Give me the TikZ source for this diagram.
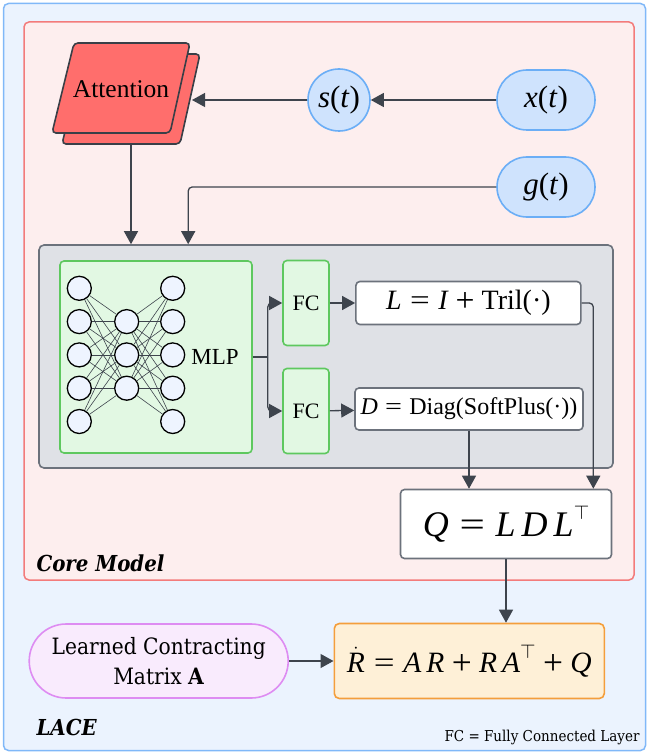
\documentclass[tikz,border=0pt]{standalone}
\usepackage{amsmath}
\usepackage[no-math]{fontspec}
\setmainfont{Liberation Serif}
\newfontfamily\notefont{DejaVu Serif Condensed}
\usepackage{tikz}
\usetikzlibrary{positioning,arrows.meta,calc}

\definecolor{lacefill}{HTML}{EBF3FE}
\definecolor{lacestroke}{HTML}{80B8F8}
\definecolor{corefill}{HTML}{FDEEEE}
\definecolor{corestroke}{HTML}{F37B7B}
\definecolor{sheetfill}{HTML}{FF6E6C}
\definecolor{sheetstroke}{HTML}{3A3F47}
\definecolor{sigfill}{HTML}{CFE3FD}
\definecolor{sigstroke}{HTML}{6BAEF6}
\definecolor{netfill}{HTML}{DFE1E6}
\definecolor{netstroke}{HTML}{6C727C}
\definecolor{mlpfill}{HTML}{E2F8E3}
\definecolor{mlpstroke}{HTML}{5EC85F}
\definecolor{neuronfill}{HTML}{EEF4FF}
\definecolor{arrowgray}{HTML}{3E444D}
\definecolor{rfill}{HTML}{FEF0D7}
\definecolor{rstroke}{HTML}{F49E3C}
\definecolor{afill}{HTML}{F9EBFD}
\definecolor{astroke}{HTML}{DE8CF2}

% formulas set in the text serif
\newcommand{\mv}[1]{\textit{#1}}
\newcommand{\meq}{\hspace{0.3em}\scalebox{1.25}[1]{=}\hspace{0.3em}}
\newcommand{\mpl}{\hspace{0.25em}\raisebox{-0.08em}{\scalebox{1.2}{+}}\hspace{0.25em}}
\newcommand{\mtr}{\raisebox{0.45em}{\scalebox{0.8}{$\top$}}}

\begin{document}
\begin{tikzpicture}[x=1pt, y=-1pt,
    link/.style={draw=arrowgray, line width=1.3pt},
    arr/.style={link, -{Triangle[length=13pt,width=14pt]}},
    sheet/.style={draw=sheetstroke, fill=sheetfill, line width=1.6pt, rounded corners=4pt},
    signal/.style={draw=sigstroke, fill=sigfill, line width=1.6pt, inner sep=0pt, font=\fontsize{31}{36}\selectfont},
    greenbox/.style={draw=mlpstroke, fill=mlpfill, line width=1.6pt, rounded corners=4pt, inner sep=0pt},
    exprbox/.style={draw=netstroke, fill=white, line width=1.6pt, rounded corners=4pt, inner sep=0pt},
    neuron/.style={circle, draw=black, fill=neuronfill, line width=1.3pt, minimum size=24pt, inner sep=0pt},
    synapse/.style={draw=arrowgray, line width=0.6pt},
    big/.style={font=\fontsize{23}{27}\selectfont}]
    \useasboundingbox (0,0) rectangle (649,754);

    % Frames
    \draw[draw=lacestroke, fill=lacefill, line width=1.5pt, rounded corners=5pt] (3.5,3.5) rectangle (645.5,750.5);
    \draw[draw=corestroke, fill=corefill, line width=1.5pt, rounded corners=5pt] (24,22) rectangle (634,580);

    % Attention (stacked sheets)
    \draw[sheet] (62,144) -- (84,54) -- (200,54) -- (180,144) -- cycle;
    \draw[sheet] (52,133) -- (74,43) -- (190,43) -- (170,133) -- cycle;
    \node[font=\fontsize{25.5}{30}\selectfont] (attn) at (121,89) {Attention};
    \coordinate (attnR) at (192,100);
    \coordinate (attnB) at (131,145);

    % Inputs
    \node[signal, circle, minimum size=62pt] (st) at (339,100) {\mv{s}(\mv{t})};
    \node[signal, rounded corners=30pt, minimum width=98pt, minimum height=60pt] (xt) at (546,100) {\mv{x}(\mv{t})};
    \node[signal, rounded corners=30pt, minimum width=98pt, minimum height=60pt] (gt) at (546,187) {\mv{g}(\mv{t})};

    % Network block
    \node[draw=netstroke, fill=netfill, line width=1.6pt, rounded corners=5pt, minimum width=574pt, minimum height=223pt] (net) at (326,356.5) {};
    \node[greenbox, minimum width=192pt, minimum height=192pt] (mlp) at (156,357) {};

    % MLP neurons
    \foreach \k in {1,...,5} {
        \node[neuron] (a\k) at (79.3, 255+33.3*\k) {};
        \node[neuron] (c\k) at (172.7, 255+33.3*\k) {};
    }
    \foreach \k in {1,2,3}
        \node[neuron] (b\k) at (126.7, 288.3+33.3*\k) {};
    \foreach \i in {1,...,5}
        \foreach \j in {1,2,3} {
            \draw[synapse] (a\i) -- (b\j);
            \draw[synapse] (b\j) -- (c\i);
        }
    \node[big] (mlplab) at (215,357) {MLP};

    % Heads
    \node[greenbox, font=\fontsize{22}{26}\selectfont, minimum width=46pt, minimum height=85pt] (fc1) at (306,303) {FC};
    \node[greenbox, font=\fontsize{22}{26}\selectfont, minimum width=46pt, minimum height=85pt] (fc2) at (306,411) {FC};
    \node[exprbox, font=\fontsize{28}{32}\selectfont, minimum width=225pt, minimum height=43pt] (lmat) at (468.4,303) {\mv{L}\meq\mv{I}\mpl Tril(·)};
    \node[exprbox, font=\fontsize{24}{28}\selectfont, minimum width=228pt, minimum height=42pt] (dmat) at (469,409) {\mv{D}\meq Diag(SoftPlus(·))};
    \node[exprbox, font=\fontsize{36}{40}\selectfont, minimum width=211pt, minimum height=69pt] (qmat) at (506,524) {\mv{Q}\meq\mv{L\,D\,L}\mtr};

    % Update equation
    \node[draw=rstroke, fill=rfill, line width=1.6pt, rounded corners=5pt, minimum width=270pt, minimum height=75pt, font=\fontsize{29.5}{34}\selectfont] (rdot) at (469.3,661) {$\dot{\mbox{\itshape R}}$\meq\mv{A\,R}\mpl\mv{R\,A}\mtr\mpl\mv{Q}};
    \node[draw=astroke, fill=afill, line width=1.6pt, rounded corners=37pt, minimum width=259pt, minimum height=74pt, align=center, font=\notefont\fontsize{22.5}{30}\selectfont] (amat) at (158.7,661) {Learned Contracting\\Matrix \textbf{A}};

    % Connectors
    \draw[arr] (xt) -- (st);
    \draw[arr] (st) -- (attnR);
    \draw[arr] (attnB) -- (attnB |- net.north);
    \draw[arr, rounded corners=4pt] (gt.west) -| ([xshift=150pt]net.north west);
    \coordinate (split) at ($(mlp.east)+(15,0)$);
    \draw[link] (mlp.east) -- (split);
    \draw[arr, rounded corners=4pt] (split) |- (fc1.west);
    \draw[arr, rounded corners=4pt] (split) |- (fc2.west);
    \draw[arr] (fc1) -- (lmat);
    \draw[arr] (fc2) -- (dmat);
    \draw[arr] (dmat.south) -- (dmat.south |- qmat.north);
    \draw[arr, rounded corners=4pt] (lmat.east) -| ([xshift=-19pt]qmat.north east);
    \draw[arr] (qmat.south) -- (qmat.south |- rdot.north);
    \draw[arr] (amat) -- (rdot);

    % Labels
    \node[anchor=west, font=\notefont\bfseries\itshape\fontsize{22}{26}\selectfont] (corelab) at (33,563) {Core Model};
    \node[anchor=west, font=\notefont\bfseries\itshape\fontsize{22}{26}\selectfont] (lacelab) at (33,727) {LACE};
    \node[anchor=east, font=\notefont\fontsize{15}{17}\selectfont] (note) at (643,737) {FC = Fully Connected Layer};
\end{tikzpicture}
\end{document}
